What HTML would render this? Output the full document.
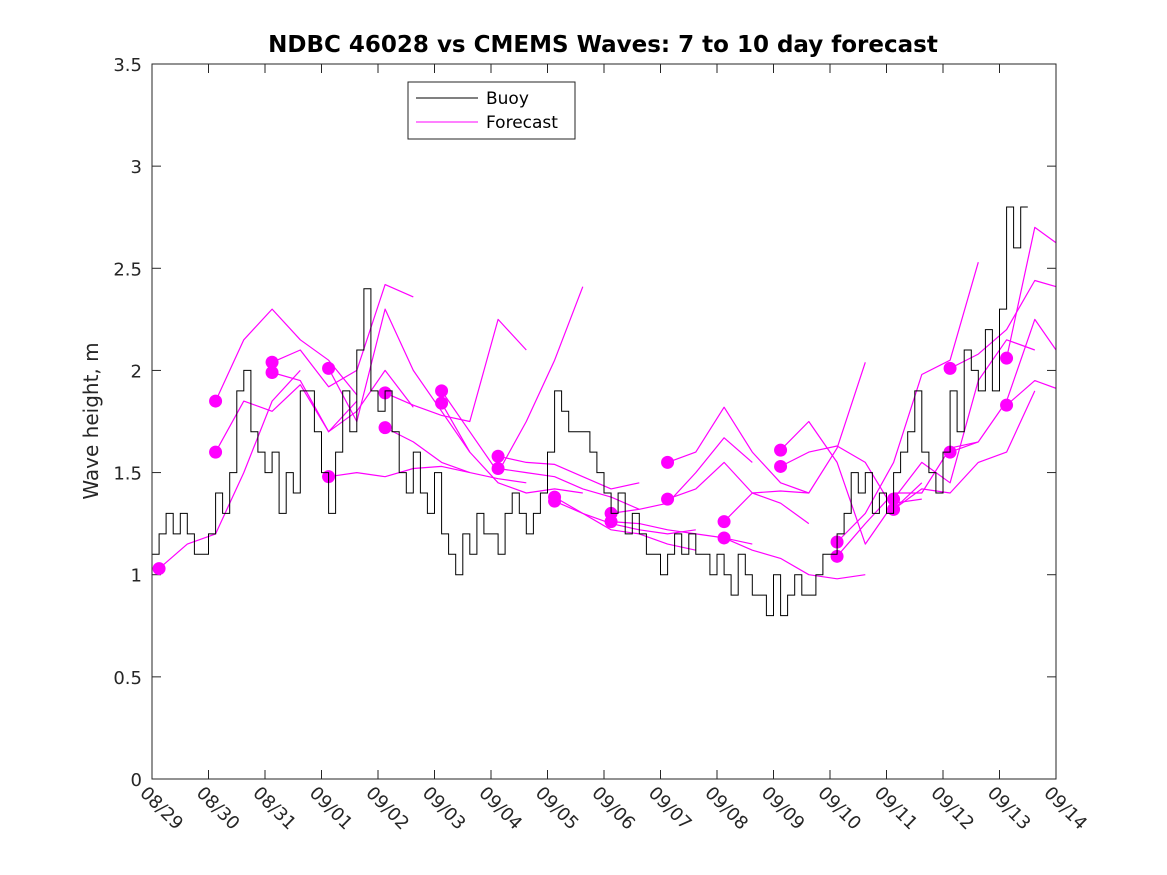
<!DOCTYPE html>
<html><head><meta charset="utf-8"><style>
body{margin:0;background:#fff}
svg{display:block;font-family:"DejaVu Sans","Liberation Sans",sans-serif}
</style></head><body>
<svg id="chart" width="1167" height="875" viewBox="0 0 1167 875">
<rect width="1167" height="875" fill="#fff"/>
<defs><clipPath id="clip"><rect x="152" y="64" width="904" height="715"/></clipPath></defs>
<text x="603" y="52" text-anchor="middle" font-size="23" font-weight="bold">NDBC 46028 vs CMEMS Waves: 7 to 10 day forecast</text>
<text transform="translate(98,421) rotate(-90)" text-anchor="middle" font-size="20" fill="#262626">Wave height, m</text>
<g id="axes"></g>
<g id="series" clip-path="url(#clip)"></g>
<rect x="152" y="64" width="904" height="715" fill="none" stroke="#262626" stroke-width="1"/>
<g>
<rect x="408" y="82" width="167" height="57" fill="#fff" stroke="#262626" stroke-width="1"/>
<line x1="416" y1="98" x2="478" y2="98" stroke="#000"/>
<text x="486" y="104" font-size="17">Buoy</text>
<line x1="416" y1="122" x2="478" y2="122" stroke="#f0f"/>
<text x="486" y="128" font-size="17">Forecast</text>
</g>
</svg>
<script>
const xLabels=["08/29","08/30","08/31","09/01","09/02","09/03","09/04","09/05","09/06","09/07","09/08","09/09","09/10","09/11","09/12","09/13","09/14"];
const yTicks=[0,0.5,1,1.5,2,2.5,3,3.5];
const yTickLabels=["0","0.5","1","1.5","2","2.5","3","3.5"];
const buoyStep=0.125;
const buoy=[1.1,1.2,1.3,1.2,1.3,1.2,1.1,1.1,
1.2,1.4,1.3,1.5,1.9,2.0,1.7,1.6,
1.5,1.6,1.3,1.5,1.4,1.9,1.9,1.7,
1.5,1.3,1.6,1.9,1.7,2.1,2.4,1.9,
1.8,1.9,1.7,1.5,1.4,1.6,1.4,1.3,
1.5,1.2,1.1,1.0,1.2,1.1,1.3,1.2,
1.2,1.1,1.3,1.4,1.3,1.2,1.3,1.4,
1.6,1.9,1.8,1.7,1.7,1.7,1.6,1.5,
1.4,1.3,1.4,1.2,1.3,1.2,1.1,1.1,
1.0,1.1,1.2,1.1,1.2,1.1,1.1,1.0,
1.1,1.0,0.9,1.1,1.0,0.9,0.9,0.8,
1.0,0.8,0.9,1.0,0.9,0.9,1.0,1.1,
1.1,1.2,1.3,1.5,1.4,1.5,1.3,1.4,
1.3,1.5,1.6,1.7,1.9,1.6,1.5,1.4,
1.6,1.9,1.7,2.1,2.0,1.9,2.2,1.9,
2.3,2.8,2.6,2.8];
const fcStart=[0.125,1.125,1.125,2.125,2.125,3.125,3.125,4.125,4.125,5.125,5.125,6.125,6.125,7.125,7.125,8.125,8.125,9.125,9.125,10.125,10.125,11.125,11.125,12.125,12.125,13.125,13.125,14.125,14.125,15.125,15.125];
const fcStep=0.5;
const fc=[
[1.03,1.15,1.20,1.50,1.85,2.00],
[1.85,2.15,2.30,2.15,2.05,1.88],
[1.60,1.85,1.80,1.93,1.70,1.85],
[2.04,2.10,1.92,2.00,2.42,2.36],
[1.99,1.95,1.70,1.80,2.00,1.82],
[2.01,1.75,2.30,2.00,1.80,1.60],
[1.48,1.50,1.48,1.52,1.53,1.50],
[1.89,1.83,1.78,1.75,2.25,2.10],
[1.72,1.65,1.55,1.50,1.47,1.45],
[1.90,1.70,1.50,1.75,2.05,2.41],
[1.84,1.60,1.45,1.40,1.42,1.40],
[1.58,1.55,1.54,1.48,1.42,1.45],
[1.52,1.50,1.48,1.42,1.38,1.32],
[1.38,1.30,1.25,1.22,1.20,1.22],
[1.36,1.30,1.22,1.20,1.15,1.12],
[1.30,1.32,1.35,1.50,1.67,1.55],
[1.26,1.25,1.22,1.20,1.18,1.15],
[1.55,1.60,1.82,1.60,1.45,1.40],
[1.37,1.42,1.55,1.40,1.35,1.25],
[1.26,1.40,1.41,1.40,1.62,2.04],
[1.18,1.12,1.08,1.00,0.98,1.00],
[1.61,1.75,1.55,1.15,1.35,1.37],
[1.53,1.60,1.63,1.55,1.32,1.45],
[1.16,1.30,1.55,1.98,2.05,2.53],
[1.09,1.25,1.40,1.40,1.62,1.65],
[1.37,1.55,1.45,1.95,2.15,2.10],
[1.32,1.42,1.40,1.55,1.60,1.90],
[2.01,2.08,2.20,2.44,2.40,2.48],
[1.60,1.65,1.85,2.25,2.05,1.95],
[2.06,2.70,2.60],
[1.83,1.95,1.90]];
const NS="http://www.w3.org/2000/svg";
const X0=152,X1=1056,Y0=779,Y1=64,DAYS=16,YMAX=3.5;
function xs(d){return X0+(X1-X0)*d/DAYS;}
function ys(v){return Y0-(Y0-Y1)*v/YMAX;}
function mk(tag,attrs,parent){const e=document.createElementNS(NS,tag);for(const k in attrs)e.setAttribute(k,attrs[k]);parent.appendChild(e);return e;}
const axes=document.getElementById('axes'),ser=document.getElementById('series');
yTicks.forEach((v,i)=>{
 let t=mk('line',{x1:X0,x2:X0+9,y1:ys(v),y2:ys(v),stroke:'#262626'},axes);
 
 
 let t2=mk('line',{x1:X1-9,x2:X1,y1:ys(v),y2:ys(v),stroke:'#262626'},axes);
 
 
 let l=mk('text',{x:X0-10,y:ys(v)+7,'text-anchor':'end','font-size':'18',fill:'#262626'},axes);
 l.textContent=yTickLabels[i];
 
 
});
xLabels.forEach((s,i)=>{
 const x=xs(i);
 let t=mk('line',{x1:x,x2:x,y1:Y0,y2:Y0-9,stroke:'#262626'},axes);
 
 
 let t2=mk('line',{x1:x,x2:x,y1:Y1,y2:Y1+9,stroke:'#262626'},axes);
 
 
 let l=mk('text',{transform:`translate(${x-13},${Y0+15}) rotate(45)`,'font-size':'18',fill:'#262626'},axes);
 l.textContent=s;
 
 
});
fc.forEach((arr,i)=>{
 const pts=arr.map((v,j)=>xs(fcStart[i]+j*fcStep).toFixed(1)+','+ys(v).toFixed(1)).join(' ');
 let p=mk('polyline',{points:pts,fill:'none',stroke:'#f0f','stroke-width':'1.2','stroke-linejoin':'round'},ser);
 
 
});
fc.forEach((arr,i)=>{
 let c=mk('circle',{cx:xs(fcStart[i]),cy:ys(arr[0]),r:6.5,fill:'#f0f'},ser);
 
 
});
let d='';
buoy.forEach((v,i)=>{
 const x=xs(i*buoyStep),y=ys(v);
 if(i===0){d+='M'+x.toFixed(1)+','+y.toFixed(1);}
 else{d+='V'+y.toFixed(1);}
 d+='H'+xs((i+1)*buoyStep).toFixed(1);
});
let bp=mk('path',{d:d,fill:'none',stroke:'#000','stroke-width':'1'},ser);


</script>
</body></html>
